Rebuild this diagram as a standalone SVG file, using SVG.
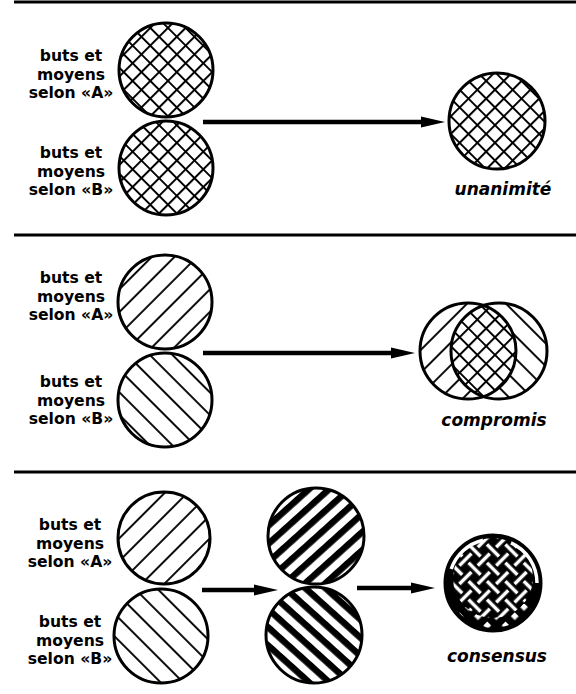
<svg xmlns="http://www.w3.org/2000/svg" width="576" height="694" viewBox="0 0 576 694">
<style>
.lbl{font-family:"DejaVu Sans","Liberation Sans",Arial,sans-serif;font-weight:bold;font-size:15.6px;fill:#000;text-anchor:middle}
.res{font-family:"DejaVu Sans","Liberation Sans",Arial,sans-serif;font-weight:bold;font-style:italic;font-size:17px;fill:#000;text-anchor:middle}
.ol{fill:none;stroke:#000;stroke-width:3}
.rule{stroke:#000;stroke-width:3}
.arr{stroke:#000;stroke-width:4.5;fill:none;marker-end:url(#head)}
</style>
<defs>
<marker id="head" markerUnits="userSpaceOnUse" markerWidth="26" markerHeight="14" refX="2" refY="6" orient="auto" overflow="visible">
<path d="M0,0.5 L24,6 L0,11.5 z" fill="#000"/>
</marker>
<pattern id="cross" patternUnits="userSpaceOnUse" width="12.5" height="12.5" patternTransform="rotate(45)">
<path d="M0,1 H12.5 M1,0 V12.5" stroke="#000" stroke-width="2"/>
</pattern>
<pattern id="hatchR" patternUnits="userSpaceOnUse" width="16" height="16" patternTransform="rotate(-45)">
<path d="M0,1 H16" stroke="#000" stroke-width="1.9"/>
</pattern>
<pattern id="hatchL" patternUnits="userSpaceOnUse" width="16" height="16" patternTransform="rotate(45)">
<path d="M0,1 H16" stroke="#000" stroke-width="1.9"/>
</pattern>
<pattern id="thickR" patternUnits="userSpaceOnUse" width="13.5" height="13.5" patternTransform="rotate(-42)">
<rect x="0" y="0" width="13.5" height="6.5" fill="#000"/>
</pattern>
<pattern id="thickL" patternUnits="userSpaceOnUse" width="13.5" height="13.5" patternTransform="rotate(42)">
<rect x="0" y="0" width="13.5" height="6.5" fill="#000"/>
</pattern>
<pattern id="dots" patternUnits="userSpaceOnUse" width="13" height="13" patternTransform="rotate(45)">
<rect x="4" y="4" width="5.5" height="5.5" fill="#fff"/>
</pattern>
<pattern id="weave" patternUnits="userSpaceOnUse" width="26" height="26" patternTransform="translate(493,578) rotate(45)">
<rect width="26" height="26" fill="#000"/>
<path d="M0,6.5 H15 M24,6.5 H26 M6.5,0 V2 M6.5,11 V26 M19.5,0 V15 M19.5,24 V26 M0,19.5 H2 M11,19.5 H26" stroke="#fff" stroke-width="3.5"/>
</pattern>
<clipPath id="cpL"><circle cx="468" cy="351" r="48"/></clipPath>
<clipPath id="cpLow"><rect x="440" y="604" width="120" height="36"/></clipPath>
<clipPath id="cpCons"><circle cx="493" cy="583" r="47"/></clipPath>
</defs>

<g id="rules">
<line class="rule" x1="14" y1="2" x2="576" y2="2"/>
<line class="rule" x1="14" y1="235" x2="576" y2="235"/>
<line class="rule" x1="14" y1="472" x2="576" y2="472"/>
</g>

<g id="connectors">
<line class="arr" x1="203" y1="122" x2="423" y2="122"/>
<line class="arr" x1="203" y1="353" x2="393" y2="353"/>
<line class="arr" x1="202" y1="590" x2="256" y2="590"/>
<line class="arr" x1="357" y1="588" x2="413" y2="588"/>
</g>

<g id="top-A">
<circle cx="166" cy="70" r="47" fill="url(#cross)"/>
<circle class="ol" cx="166" cy="70" r="47"/>
<text class="lbl" x="71" y="61">buts et</text>
<text class="lbl" x="71" y="79.5">moyens</text>
<text class="lbl" x="71" y="98">selon «A»</text>
</g>
<g id="top-B">
<circle cx="166" cy="168" r="47" fill="url(#cross)"/>
<circle class="ol" cx="166" cy="168" r="47"/>
<text class="lbl" x="71" y="158">buts et</text>
<text class="lbl" x="71" y="176.5">moyens</text>
<text class="lbl" x="71" y="195">selon «B»</text>
</g>
<g id="unanimite">
<circle cx="497" cy="121" r="48" fill="url(#cross)"/>
<circle class="ol" cx="497" cy="121" r="48"/>
<text class="res" x="503" y="195">unanimité</text>
</g>

<g id="mid-A">
<circle cx="165" cy="302" r="47" fill="url(#hatchR)"/>
<circle class="ol" cx="165" cy="302" r="47"/>
<text class="lbl" x="71" y="283">buts et</text>
<text class="lbl" x="71" y="301.5">moyens</text>
<text class="lbl" x="71" y="320">selon «A»</text>
</g>
<g id="mid-B">
<circle cx="165" cy="400" r="47" fill="url(#hatchL)"/>
<circle class="ol" cx="165" cy="400" r="47"/>
<text class="lbl" x="71" y="387">buts et</text>
<text class="lbl" x="71" y="405.5">moyens</text>
<text class="lbl" x="71" y="424">selon «B»</text>
</g>
<g id="compromis">
<circle cx="468" cy="351" r="48" fill="url(#hatchR)"/>
<circle cx="499" cy="351" r="48" fill="url(#hatchL)"/>
<circle cx="499" cy="351" r="48" fill="#fff" clip-path="url(#cpL)"/>
<circle cx="499" cy="351" r="48" fill="url(#cross)" clip-path="url(#cpL)"/>
<circle class="ol" cx="468" cy="351" r="48"/>
<circle class="ol" cx="499" cy="351" r="48"/>
<text class="res" x="494" y="426">compromis</text>
</g>

<g id="bot-A">
<circle cx="164" cy="538" r="46" fill="url(#hatchR)"/>
<circle class="ol" cx="164" cy="538" r="46"/>
<text class="lbl" x="70" y="530">buts et</text>
<text class="lbl" x="70" y="548.5">moyens</text>
<text class="lbl" x="70" y="567">selon «A»</text>
</g>
<g id="bot-B">
<circle cx="161" cy="636" r="47" fill="url(#hatchL)"/>
<circle class="ol" cx="161" cy="636" r="47"/>
<text class="lbl" x="70" y="627">buts et</text>
<text class="lbl" x="70" y="645.5">moyens</text>
<text class="lbl" x="70" y="664">selon «B»</text>
</g>
<g id="bot-mid-A">
<circle cx="316" cy="536" r="48" fill="url(#thickR)"/>
<circle class="ol" cx="316" cy="536" r="48"/>
</g>
<g id="bot-mid-B">
<circle cx="314" cy="635" r="48" fill="url(#thickL)"/>
<circle class="ol" cx="314" cy="635" r="48"/>
</g>
<g id="consensus">
<circle cx="493" cy="583" r="48" fill="#000"/>
<circle cx="493" cy="583" r="45" fill="url(#dots)" clip-path="url(#cpLow)"/>
<circle cx="493" cy="578" r="40" fill="url(#weave)"/>
<g clip-path="url(#cpCons)" fill="none" stroke="#fff" stroke-width="3.5">
<path d="M451.2,569 A44,44 0 0 1 483,540.2"/>
<path d="M511,542.9 A44,44 0 0 1 537,583"/>
</g>
<circle class="ol" cx="493" cy="583" r="48"/>
<text class="res" x="497" y="662">consensus</text>
</g>
</svg>
